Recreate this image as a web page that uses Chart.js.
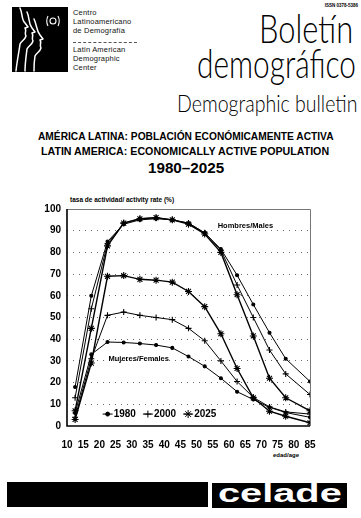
<!DOCTYPE html>
<html>
<head>
<meta charset="utf-8">
<title>Boletín demográfico</title>
<script src="https://cdn.jsdelivr.net/npm/chart.js@4.4.1/dist/chart.umd.min.js"></script>
<style>
  html, body { margin: 0; padding: 0; background: #fff; }
  #page { position: relative; width: 361px; height: 518px; overflow: hidden; color: #000;
          font-family: "Liberation Sans", Arial, sans-serif; }
  .abs { position: absolute; white-space: nowrap; }
  .org { left: 73px; font-size: 7.5px; line-height: 9px; color: #111; letter-spacing: 0.2px; }
  .mast { font-family: Lato, "Open Sans", sans-serif; font-weight: 300; line-height: 1; transform-origin: 100% 0; }
  .ttl { font-weight: 700; line-height: 1; transform-origin: 0 0; }
  #chartBox { position: absolute; left: 0; top: 190px; }
  .bar { position: absolute; background: #000; }
</style>
</head>
<body>
<div id="page">
  <!-- CELADE emblem -->
  <svg class="abs" width="56" height="65" viewBox="0 0 56 65" style="left:12px;top:7px">
    <rect width="56" height="65" fill="#000"/>
    <g fill="none" stroke="#fff" stroke-width="1.5" stroke-linejoin="round" stroke-linecap="round">
      <path d="M8 1 C11 7 9 12 13 16 L16 20 L13 21 C15 24 12 26 14 29 C13 33 9 34 8 37 C7 45 5 54 4 64"/>
      <path d="M15 5 C18 11 16 16 20 21 L23 25 L20 26 C22 29 19 31 21 34 C20 38 16 39 15 42 C14 50 13 57 13 64"/>
      <path d="M22 12 C25 18 24 23 28 28 L31 32 L28 33 C30 36 27 38 29 41 C28 45 24 46 23 49 C22 55 22 60 22 64"/>
    </g>
    <g fill="none" stroke="#fff" stroke-width="1.1">
      <circle cx="41" cy="14" r="3"/>
      <path d="M36 9 Q33.5 14 36 19 M46 9 Q48.5 14 46 19"/>
    </g>
  </svg>

  <div class="abs org" style="top:8px">Centro<br>Latinoamericano<br>de Demografía</div>
  <div class="abs" style="left:73px;top:42px;width:64px;border-top:1px dashed #555"></div>
  <div class="abs org" style="top:45px">Latin American<br>Demographic<br>Center</div>

  <div class="abs" style="right:3px;top:3px;font-size:4.5px;font-weight:700">ISSN 0378-5386</div>

  <div class="abs mast" id="m1" style="right:8px;top:9px;font-size:39px">Boletín</div>
  <div class="abs mast" id="m2" style="right:5px;top:43px;font-size:40px">demográfico</div>
  <div class="abs mast" id="m3" style="right:4px;top:92px;font-size:23px">Demographic bulletin</div>

  <div class="abs ttl" id="t1" style="top:131px;font-size:10.5px">AMÉRICA LATINA: POBLACIÓN ECONÓMICAMENTE ACTIVA</div>
  <div class="abs ttl" id="t2" style="top:146px;font-size:10.5px">LATIN AMERICA: ECONOMICALLY ACTIVE POPULATION</div>
  <div class="abs ttl" id="t3" style="top:160px;font-size:15px">1980–2025</div>

  <div class="abs" style="left:70px;top:196px;font-size:6.5px;font-weight:700">tasa de actividad/ activity rate (%)</div>
  <div class="abs" style="left:273px;top:452px;font-size:6px;font-weight:700">edad/age</div>

  <div id="chartBox"><canvas id="chart" width="361" height="280"></canvas></div>

  <div class="bar" style="left:7px;top:482px;width:201px;height:25px"></div>
  <div class="bar" style="left:212px;top:483px;width:135px;height:25px"></div>
  <div class="abs" id="brand" style="left:218px;top:481px;font-size:25px;font-weight:700;color:#fff;line-height:1;transform-origin:0 0">celade</div>
</div>

<script>
// age groups, plotted at their midpoints; the open 80+ group sits at 85
const ages = [12.5, 17.5, 22.5, 27.5, 32.5, 37.5, 42.5, 47.5, 52.5, 57.5, 62.5, 67.5, 72.5, 77.5, 85];
const xTicks = [10, 15, 20, 25, 30, 35, 40, 45, 50, 55, 60, 65, 70, 75, 80, 85];
const yTicks = [0, 10, 20, 30, 40, 50, 60, 70, 80, 90, 100];
const years = ['1980', '2000', '2025'];

// activity rates (%), men
const men1980 = [18, 60, 85, 93, 95, 95.5, 95, 93.5, 89, 81.5, 69.5, 56, 43, 31, 20.5];
const men2000 = [13, 54, 84, 93.5, 95.5, 96, 95, 93.5, 89, 81, 65, 50, 35, 24, 14.5];
const men2025 = [7, 45, 83, 93.5, 95.5, 96, 95, 93, 88.5, 80, 60.5, 41.5, 22, 13, 7];

// activity rates (%), women
const women1980 = [6, 33, 38.7, 38.5, 38, 37.3, 36, 32, 27.5, 22, 15.8, 12.2, 8.6, 6.2, 4];
const women2000 = [4, 31, 51, 52.5, 51, 50, 49, 45, 39.3, 30, 20.5, 13.2, 8.8, 6.5, 5.5];
const women2025 = [3, 29, 69, 69.3, 67.6, 67.2, 66.3, 62, 55, 42.5, 26.5, 13, 6.8, 4.5, 1.5];

const markStyle = {
  '1980': { pointStyle: 'circle', pointRadius: 1.5, borderWidth: 1 },
  '2000': { pointStyle: 'cross', pointRadius: 3, borderWidth: 1 },
  '2025': { pointStyle: 'star', pointRadius: 3.5, borderWidth: 1.4 }
};

const FONT = '"Liberation Sans", Arial, sans-serif';

function series(label, year, values) {
  const s = markStyle[year];
  return {
    label: label,
    data: values.map((v, i) => ({ x: ages[i], y: v })),
    borderColor: '#000',
    backgroundColor: '#000',
    borderWidth: s.borderWidth,
    pointStyle: s.pointStyle,
    pointRadius: s.pointRadius,
    pointBorderWidth: 1.1,
    pointBorderColor: '#000',
    pointBackgroundColor: '#000',
    tension: 0
  };
}

const datasets = [
  series('Hombres 1980', '1980', men1980),
  series('Hombres 2000', '2000', men2000),
  series('Hombres 2025', '2025', men2025),
  series('Mujeres 1980', '1980', women1980),
  series('Mujeres 2000', '2000', women2000),
  series('Mujeres 2025', '2025', women2025)
];

// box round the plot: heavy on the axes, light on top and right
const framePlugin = {
  id: 'frame',
  afterDraw(chart) {
    const { ctx, chartArea: a } = chart;
    ctx.save();
    ctx.strokeStyle = '#777';
    ctx.lineWidth = 1;
    ctx.beginPath();
    ctx.moveTo(a.left, a.top + 0.5);
    ctx.lineTo(a.right + 0.5, a.top + 0.5);
    ctx.lineTo(a.right + 0.5, a.bottom);
    ctx.stroke();
    ctx.strokeStyle = '#000';
    ctx.lineWidth = 1.6;
    ctx.beginPath();
    ctx.moveTo(a.left, a.top);
    ctx.lineTo(a.left, a.bottom);
    ctx.lineTo(a.right, a.bottom);
    ctx.stroke();
    ctx.restore();
  }
};

// group labels and the year key, placed in data units
const notesPlugin = {
  id: 'notes',
  afterDraw(chart) {
    const { ctx, scales: { x, y } } = chart;
    ctx.save();
    ctx.fillStyle = '#000';
    ctx.textBaseline = 'middle';
    ctx.textAlign = 'left';
    ctx.font = 'bold 7.5px ' + FONT;
    ctx.fillText('Hombres/Males', x.getPixelForValue(56.5), y.getPixelForValue(92));
    ctx.fillText('Mujeres/Females', x.getPixelForValue(22.8), y.getPixelForValue(31));

    ctx.font = 'bold 10px ' + FONT;
    let px = x.getPixelForValue(21);
    const py = y.getPixelForValue(5.5);
    years.forEach(yr => {
      const s = markStyle[yr];
      ctx.strokeStyle = '#000';
      ctx.lineWidth = 1;
      ctx.beginPath();
      ctx.moveTo(px, py);
      ctx.lineTo(px + 10, py);
      ctx.stroke();
      if (Chart.helpers && Chart.helpers.drawPoint) {
        Chart.helpers.drawPoint(ctx, { pointStyle: s.pointStyle, radius: s.pointRadius + 0.5, rotation: 0, borderWidth: 1.1 }, px + 5, py);
      }
      ctx.fillText(yr, px + 11, py + 0.5);
      px += 11 + ctx.measureText(yr).width + 7;
    });
    ctx.restore();
  }
};

const tickFont = { family: FONT, size: 10, weight: 'bold' };

new Chart(document.getElementById('chart'), {
  type: 'line',
  data: { datasets },
  options: {
    responsive: false,
    animation: false,
    devicePixelRatio: 1,
    layout: { padding: { top: 19, right: 51, bottom: 0, left: 0 } },
    plugins: { legend: { display: false }, tooltip: { enabled: false } },
    scales: {
      x: {
        type: 'linear',
        min: 10,
        max: 85,
        afterBuildTicks: s => { s.ticks = xTicks.map(v => ({ value: v })); },
        afterFit: s => { s.height = 44; },
        grid: { display: false },
        border: { display: false },
        ticks: { color: '#000', font: tickFont, padding: 5, maxRotation: 0, autoSkip: false }
      },
      y: {
        type: 'linear',
        min: 0,
        max: 100,
        afterBuildTicks: s => { s.ticks = yTicks.map(v => ({ value: v })); },
        afterFit: s => { s.width = 67; },
        grid: {
          drawTicks: false,
          lineWidth: 1,
          color: c => (c.tick && c.tick.value > 0 && c.tick.value < 100) ? '#6a6a6a' : 'rgba(0,0,0,0)'
        },
        border: { display: false, dash: [1, 5] },
        ticks: { color: '#000', font: tickFont, padding: 6 }
      }
    }
  },
  plugins: [framePlugin, notesPlugin]
});

// squeeze the lettering to its column width
function fit(id, width, left) {
  const el = document.getElementById(id);
  const w = el.offsetWidth;
  el.style.transform = 'scaleX(' + (width / w) + ')';
  if (left !== undefined) el.style.left = left + 'px';
}
fit('m1', 94);
fit('m2', 159);
fit('m3', 180);
fit('t1', 296, 38);
fit('t2', 288, 41);
fit('t3', 76, 148);
fit('brand', 124, 218);
</script>
</body>
</html>
